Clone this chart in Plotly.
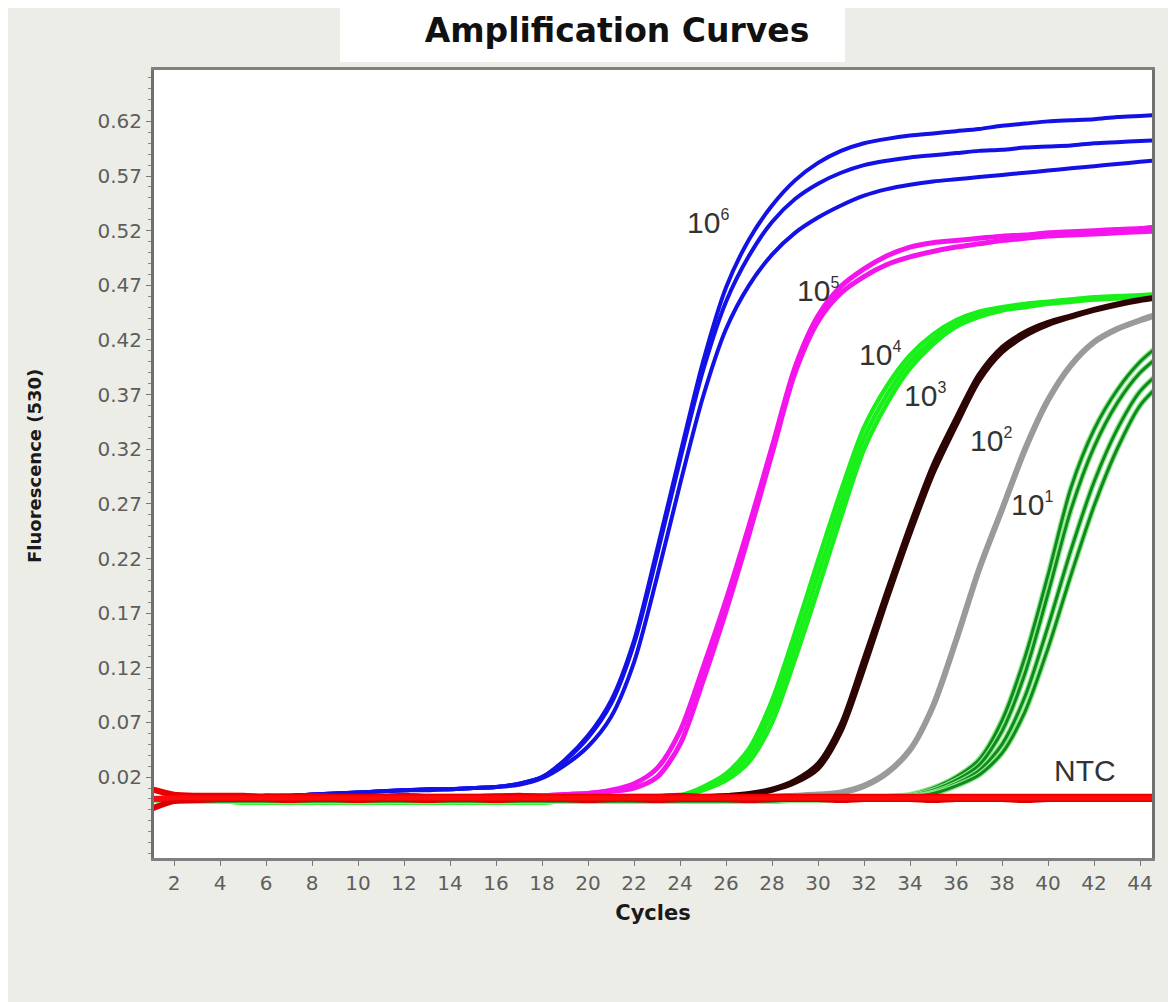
import plotly.graph_objects as go

cycles = list(range(1, 46))

blue_1 = [0.000, 0.001, 0.002, 0.002, 0.002, 0.003, 0.003, 0.004, 0.005, 0.006,
          0.007, 0.008, 0.009, 0.009, 0.010, 0.011, 0.014, 0.020, 0.036, 0.058,
          0.090, 0.145, 0.228, 0.315, 0.400, 0.468, 0.512, 0.543, 0.566, 0.582,
          0.593, 0.600, 0.604, 0.607, 0.609, 0.611, 0.613, 0.616, 0.618, 0.620,
          0.621, 0.622, 0.624, 0.625, 0.626]
blue_2 = [0.000, 0.001, 0.002, 0.002, 0.002, 0.003, 0.003, 0.004, 0.005, 0.006,
          0.007, 0.008, 0.009, 0.009, 0.010, 0.011, 0.014, 0.020, 0.035, 0.056,
          0.087, 0.142, 0.223, 0.310, 0.392, 0.455, 0.497, 0.528, 0.549, 0.563,
          0.573, 0.580, 0.584, 0.587, 0.589, 0.591, 0.593, 0.594, 0.596, 0.597,
          0.598, 0.600, 0.601, 0.602, 0.603]
blue_3 = [0.000, 0.001, 0.002, 0.002, 0.002, 0.003, 0.003, 0.004, 0.005, 0.006,
          0.007, 0.008, 0.008, 0.009, 0.010, 0.011, 0.013, 0.019, 0.031, 0.048,
          0.075, 0.125, 0.203, 0.288, 0.368, 0.430, 0.470, 0.498, 0.518, 0.532,
          0.543, 0.552, 0.558, 0.562, 0.565, 0.567, 0.569, 0.571, 0.573, 0.575,
          0.577, 0.579, 0.581, 0.583, 0.585]

magenta_1 = [0.000, 0.001, 0.002, 0.002, 0.002, 0.002, 0.002, 0.002, 0.002, 0.002,
             0.002, 0.002, 0.002, 0.002, 0.002, 0.003, 0.003, 0.003, 0.004, 0.005,
             0.008, 0.014, 0.028, 0.062, 0.120, 0.182, 0.250, 0.322, 0.395, 0.442,
             0.469, 0.485, 0.497, 0.505, 0.509, 0.511, 0.513, 0.515, 0.516, 0.518,
             0.519, 0.520, 0.521, 0.522, 0.524]
magenta_2 = [0.000, 0.001, 0.002, 0.002, 0.002, 0.002, 0.002, 0.002, 0.002, 0.002,
             0.002, 0.002, 0.002, 0.002, 0.002, 0.003, 0.003, 0.003, 0.004, 0.005,
             0.007, 0.010, 0.020, 0.050, 0.108, 0.172, 0.242, 0.316, 0.390, 0.437,
             0.463, 0.478, 0.489, 0.496, 0.501, 0.505, 0.508, 0.511, 0.513, 0.515,
             0.516, 0.517, 0.518, 0.519, 0.520]

green_1 = [-0.001, -0.002, -0.002, -0.002, -0.003, -0.003, -0.003, -0.003, -0.003, -0.003,
           -0.003, -0.003, -0.003, -0.003, -0.003, -0.003, -0.003, -0.003, -0.002, -0.002,
           -0.002, -0.001, 0.000, 0.003, 0.010, 0.020, 0.040, 0.080, 0.140, 0.205,
           0.270, 0.330, 0.370, 0.400, 0.420, 0.435, 0.443, 0.448, 0.451, 0.454,
           0.456, 0.458, 0.459, 0.460, 0.461]
green_2 = [-0.001, -0.002, -0.002, -0.002, -0.003, -0.003, -0.003, -0.003, -0.003, -0.003,
           -0.003, -0.003, -0.003, -0.003, -0.003, -0.003, -0.003, -0.003, -0.002, -0.002,
           -0.002, -0.001, 0.000, 0.002, 0.008, 0.017, 0.034, 0.070, 0.128, 0.192,
           0.258, 0.320, 0.362, 0.394, 0.416, 0.432, 0.441, 0.447, 0.450, 0.453,
           0.455, 0.457, 0.458, 0.459, 0.460]
green_3 = [-0.001, -0.002, -0.002, -0.002, -0.003, -0.003, -0.003, -0.003, -0.003, -0.003,
           -0.003, -0.003, -0.003, -0.003, -0.003, -0.003, -0.003, -0.003, -0.002, -0.002,
           -0.002, -0.001, 0.000, 0.003, 0.011, 0.023, 0.046, 0.090, 0.152, 0.218,
           0.282, 0.340, 0.378, 0.406, 0.425, 0.438, 0.446, 0.450, 0.453, 0.455,
           0.457, 0.459, 0.460, 0.461, 0.462]

black_1 = [0.000, 0.001, 0.002, 0.002, 0.002, 0.002, 0.002, 0.002, 0.002, 0.002,
           0.002, 0.002, 0.002, 0.002, 0.002, 0.002, 0.002, 0.002, 0.002, 0.002,
           0.002, 0.002, 0.002, 0.002, 0.002, 0.003, 0.005, 0.009, 0.017, 0.032,
           0.068, 0.128, 0.190, 0.250, 0.305, 0.348, 0.388, 0.413, 0.427, 0.436,
           0.442, 0.448, 0.453, 0.457, 0.460]
black_2 = [0.000, 0.001, 0.002, 0.002, 0.002, 0.002, 0.002, 0.002, 0.002, 0.002,
           0.002, 0.002, 0.002, 0.002, 0.002, 0.002, 0.002, 0.002, 0.002, 0.002,
           0.002, 0.002, 0.002, 0.002, 0.002, 0.003, 0.004, 0.008, 0.015, 0.028,
           0.062, 0.120, 0.183, 0.243, 0.298, 0.342, 0.383, 0.409, 0.424, 0.434,
           0.441, 0.447, 0.452, 0.456, 0.459]

gray_1 = [0.000, 0.001, 0.002, 0.002, 0.002, 0.002, 0.002, 0.002, 0.002, 0.002,
          0.002, 0.002, 0.002, 0.002, 0.002, 0.002, 0.002, 0.002, 0.002, 0.002,
          0.002, 0.002, 0.002, 0.002, 0.002, 0.002, 0.002, 0.002, 0.003, 0.004,
          0.006, 0.012, 0.024, 0.045, 0.085, 0.145, 0.210, 0.265, 0.320, 0.365,
          0.397, 0.418, 0.430, 0.438, 0.445]

dkgreen_1 = [-0.001, -0.002, -0.002, -0.002, -0.002, -0.002, -0.002, -0.002, -0.002, -0.002,
             -0.002, -0.002, -0.002, -0.002, -0.002, -0.002, -0.002, -0.002, -0.002, -0.002,
             -0.002, -0.002, -0.002, -0.002, -0.002, -0.002, -0.002, -0.002, -0.001, -0.001,
             0.000, 0.001, 0.002, 0.004, 0.010, 0.020, 0.036, 0.072, 0.130, 0.205,
             0.285, 0.338, 0.374, 0.400, 0.418]
dkgreen_2 = [-0.001, -0.002, -0.002, -0.002, -0.002, -0.002, -0.002, -0.002, -0.002, -0.002,
             -0.002, -0.002, -0.002, -0.002, -0.002, -0.002, -0.002, -0.002, -0.002, -0.002,
             -0.002, -0.002, -0.002, -0.002, -0.002, -0.002, -0.002, -0.002, -0.001, -0.001,
             0.000, 0.001, 0.002, 0.003, 0.008, 0.017, 0.031, 0.062, 0.115, 0.188,
             0.265, 0.322, 0.362, 0.390, 0.408]
dkgreen_3 = [-0.001, -0.002, -0.002, -0.002, -0.002, -0.002, -0.002, -0.002, -0.002, -0.002,
             -0.002, -0.002, -0.002, -0.002, -0.002, -0.002, -0.002, -0.002, -0.002, -0.002,
             -0.002, -0.002, -0.002, -0.002, -0.002, -0.002, -0.002, -0.002, -0.001, -0.001,
             0.000, 0.000, 0.001, 0.002, 0.006, 0.014, 0.026, 0.050, 0.094, 0.158,
             0.228, 0.290, 0.338, 0.373, 0.393]
dkgreen_4 = [-0.001, -0.002, -0.002, -0.002, -0.002, -0.002, -0.002, -0.002, -0.002, -0.002,
             -0.002, -0.002, -0.002, -0.002, -0.002, -0.002, -0.002, -0.002, -0.002, -0.002,
             -0.002, -0.002, -0.002, -0.002, -0.002, -0.002, -0.002, -0.002, -0.001, -0.001,
             0.000, 0.000, 0.001, 0.002, 0.005, 0.012, 0.022, 0.042, 0.080, 0.138,
             0.205, 0.268, 0.320, 0.360, 0.382]

ntc_1 = [0.009, 0.004, 0.003, 0.003, 0.003, 0.002, 0.002, 0.003, 0.002, 0.002,
         0.002, 0.003, 0.002, 0.002, 0.002, 0.002, 0.003, 0.002, 0.002, 0.002,
         0.002, 0.002, 0.002, 0.003, 0.002, 0.002, 0.002, 0.002, 0.002, 0.002,
         0.002, 0.002, 0.002, 0.002, 0.002, 0.002, 0.002, 0.002, 0.002, 0.002,
         0.002, 0.002, 0.002, 0.002, 0.002]
ntc_2 = [-0.009, -0.002, -0.001, 0.000, 0.000, 0.000, -0.001, 0.000, 0.000, -0.001,
         0.000, 0.000, -0.001, 0.000, 0.000, -0.001, 0.000, 0.000, 0.000, -0.001,
         0.000, 0.000, -0.001, 0.000, 0.000, 0.000, -0.001, 0.000, 0.000, 0.000,
         -0.001, 0.000, 0.000, 0.000, -0.001, 0.000, 0.000, 0.000, -0.001, 0.000,
         0.000, 0.000, 0.000, 0.000, 0.000]
ntc_3 = [0.000, 0.001, 0.001, 0.001, 0.001, 0.001, 0.001, 0.001, 0.001, 0.001,
         0.001, 0.001, 0.001, 0.001, 0.001, 0.001, 0.001, 0.001, 0.001, 0.001,
         0.001, 0.001, 0.001, 0.001, 0.001, 0.001, 0.001, 0.001, 0.001, 0.001,
         0.001, 0.001, 0.001, 0.001, 0.001, 0.001, 0.001, 0.001, 0.001, 0.001,
         0.001, 0.001, 0.001, 0.001, 0.001]

y_tickvals = [0.02, 0.07, 0.12, 0.17, 0.22, 0.27, 0.32, 0.37, 0.42, 0.47, 0.52, 0.57, 0.62]
y_ticktext = ["0.02", "0.07", "0.12", "0.17", "0.22", "0.27", "0.32", "0.37", "0.42",
              "0.47", "0.52", "0.57", "0.62"]
x_tickvals = list(range(2, 45, 2))

label_bases = ["10", "10", "10", "10", "10", "10", "NTC"]
label_exps = ["6", "5", "4", "3", "2", "1", ""]
label_x = [25.2, 30.0, 32.7, 34.65, 37.5, 39.3, 41.6]
label_y = [0.5275, 0.465, 0.407, 0.369, 0.328, 0.269, 0.026]

fig = go.Figure()

def add_line(y, color, width):
    fig.add_trace(go.Scatter(x=cycles, y=y, mode="lines",
                             line=dict(color=color, width=width, shape="spline", smoothing=0.8),
                             showlegend=False, hoverinfo="skip"))

for g in (green_1, green_2, green_3):
    add_line(g, "#19F019", 4.5)
add_line(gray_1, "#9A9A9A", 6)
for d in (dkgreen_1, dkgreen_2, dkgreen_3, dkgreen_4):
    add_line(d, "#8BE68B", 5.5)
    add_line(d, "#108A1C", 3)
for k in (black_1, black_2):
    add_line(k, "#2E0505", 5)
for m in (magenta_1, magenta_2):
    add_line(m, "#F414EC", 5)
for b in (blue_1, blue_2, blue_3):
    add_line(b, "#1212E6", 4)
add_line(ntc_1, "#E80000", 6)
add_line(ntc_2, "#D80000", 6)
add_line(ntc_3, "#FF0A0A", 5)

annotations = []
for base, ex, lx, ly in zip(label_bases, label_exps, label_x, label_y):
    txt = base if not ex else base + "<sup><span style='font-size:16px'>" + ex + "</span></sup>"
    annotations.append(dict(x=lx, y=ly, xref="x", yref="y", text=txt, showarrow=False,
                            font=dict(family="Liberation Sans, Arial, sans-serif", size=30,
                                      color="#333333")))
annotations.append(dict(x=(35 - 154) / 998, y=0.4975, xref="paper", yref="paper",
                        xanchor="center", yanchor="middle",
                        text="<b>Fluorescence (530)</b>", textangle=-90, showarrow=False,
                        font=dict(family="DejaVu Sans, sans-serif", size=18, color="#1a1a1a")))

fig.update_layout(
    width=1168, height=994,
    paper_bgcolor="#EDEDE7", plot_bgcolor="#FFFFFF",
    margin=dict(l=146, r=24, t=62, b=144),
    title=dict(text="<b>Amplification Curves</b>", x=609 / 1168, xref="container", xanchor="center",
               y=1 - 22 / 994, yref="container", yanchor="middle",
               font=dict(family="DejaVu Sans, sans-serif", size=33, color="#111111")),
    shapes=[dict(type="rect", xref="paper", yref="paper",
                 x0=(340 - 154) / 998, x1=(845 - 154) / 998,
                 y0=1 + 8 / 788, y1=1 + 62 / 788,
                 fillcolor="#FFFFFF", line=dict(width=0), layer="below")],
    annotations=annotations,
    xaxis=dict(range=[1.13, 44.52], tickvals=x_tickvals, ticks="outside", ticklen=5,
               tickcolor="#777777", showgrid=False, zeroline=False,
               showline=True, linecolor="#808080", linewidth=3, mirror=True,
               tickfont=dict(family="DejaVu Sans, sans-serif", size=20, color="#5E5E5E"),
               title=dict(text="<b>Cycles</b>", standoff=12,
                          font=dict(family="DejaVu Sans, sans-serif", size=21, color="#1a1a1a"))),
    yaxis=dict(range=[-0.054, 0.667], tickvals=y_tickvals, ticktext=y_ticktext,
               ticks="outside", ticklen=5, tickcolor="#777777",
               minor=dict(dtick=0.01, tick0=0.02, ticks="outside", ticklen=3, tickcolor="#888888"),
               showgrid=False, zeroline=False,
               showline=True, linecolor="#707070", linewidth=3, mirror=True,
               tickfont=dict(family="DejaVu Sans, sans-serif", size=20, color="#5E5E5E")),
)

fig.write_html("out.html")
